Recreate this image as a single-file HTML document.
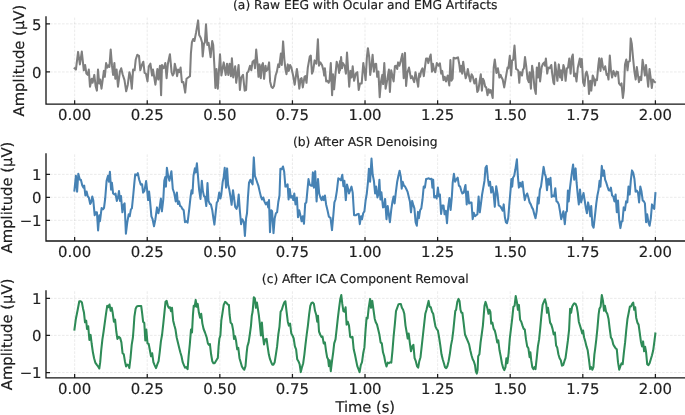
<!DOCTYPE html>
<html lang="en"><head><meta charset="utf-8"><title>EEG denoising</title>
<style>html,body{margin:0;padding:0;background:#fff}body{width:685px;height:415px;overflow:hidden}svg{display:block}text{text-rendering:geometricPrecision;stroke:#1e1e1e;stroke-width:0.18px;font-family:"DejaVu Sans","Liberation Sans",sans-serif;fill:#1e1e1e}</style></head><body>
<svg width="685" height="415" viewBox="0 0 685 415">
<rect width="685" height="415" fill="#fff"/>
<g>
<path d="M74.65 104.20V16.30M147.24 104.20V16.30M219.84 104.20V16.30M292.43 104.20V16.30M365.02 104.20V16.30M437.62 104.20V16.30M510.21 104.20V16.30M582.81 104.20V16.30M655.40 104.20V16.30M46.00 23.85H684.50M46.00 71.95H684.50" fill="none" stroke="#b0b0b0" stroke-opacity="0.32" stroke-width="0.8" stroke-dasharray="2.6 1.4"/>
<path d="M73.9 67.6 75.9 69.6 78.1 51.9 79.9 64.4 81.8 51.6 83.8 70.3 85.1 65.0 86.4 73.6 87.7 74.9 88.8 69.6 90.0 86.7 91.7 78.8 92.6 82.8 94.3 74.9 95.6 86.0 96.9 90.6 98.0 69.6 99.2 83.4 100.2 79.5 101.5 88.7 103.9 70.9 104.8 76.8 106.1 63.1 107.4 67.6 108.8 65.0 109.4 67.0 110.7 49.5 112.0 65.7 113.1 74.9 114.4 63.1 115.3 78.8 116.6 69.6 118.0 86.7 119.9 71.6 121.2 68.3 122.6 74.2 124.5 80.1 126.2 91.3 127.8 84.7 129.4 72.2 130.4 75.5 131.8 88.7 133.1 69.6 134.6 70.3 135.7 59.8 137.3 54.8 139.0 55.8 140.3 70.3 141.9 65.0 143.3 61.7 144.6 72.9 145.9 73.6 147.5 81.4 148.8 66.3 150.4 63.7 152.1 75.5 153.0 69.6 155.4 84.7 157.4 69.0 158.3 79.5 160.0 65.7 161.1 95.2 162.0 65.0 163.3 68.3 164.2 67.6 165.3 63.1 166.6 78.2 167.9 63.7 169.9 54.2 171.6 72.2 172.7 75.5 173.8 73.6 174.8 63.7 176.0 69.0 177.1 76.2 178.1 69.6 179.4 72.2 180.6 67.6 181.9 82.1 183.4 82.1 185.2 92.6 186.5 78.8 188.2 77.5 190.0 76.2 190.9 53.5 191.9 42.3 193.2 39.0 194.4 41.0 196.1 32.4 198.1 20.4 199.2 35.1 200.7 37.7 202.0 42.3 202.7 56.4 204.0 43.6 204.9 42.3 206.0 24.3 207.3 44.9 208.6 42.9 210.6 57.1 212.2 41.0 213.2 44.9 214.5 68.0 215.4 88.0 216.5 69.0 217.8 88.7 220.0 54.2 221.4 75.5 223.7 62.4 225.7 74.9 227.0 63.7 228.3 74.9 229.6 63.7 230.9 76.2 231.9 58.2 233.2 77.5 235.2 66.3 236.2 82.8 238.6 65.0 239.9 90.0 241.2 77.5 243.0 74.9 244.7 90.6 246.1 90.0 247.0 72.9 248.3 71.6 250.0 65.7 251.3 70.3 252.6 61.7 254.2 60.4 255.0 68.3 256.2 49.5 257.5 63.7 258.5 76.8 259.5 64.4 260.8 78.2 261.8 65.7 262.9 63.1 264.1 78.8 265.5 65.7 266.4 70.9 267.7 69.6 269.1 62.4 270.1 81.4 271.4 86.7 272.7 88.0 274.0 86.0 275.6 75.5 276.9 71.6 278.2 64.4 279.2 67.0 280.9 53.5 281.8 65.0 283.1 41.4 284.4 59.8 285.5 69.6 286.5 74.2 287.8 64.4 288.8 70.9 290.1 65.0 291.4 67.6 293.1 75.5 294.7 84.7 296.9 69.0 298.0 76.8 299.3 88.7 300.6 78.8 301.6 78.2 302.8 87.4 304.5 76.8 305.4 76.2 306.5 82.8 307.8 67.6 309.8 56.5 310.8 55.6 312.0 73.6 313.1 70.9 314.6 60.4 316.4 63.7 317.9 39.3 319.0 65.7 320.3 62.4 322.0 65.0 323.6 70.9 324.2 75.5 324.9 68.3 326.2 81.4 327.5 80.8 328.6 82.8 329.5 80.8 330.8 63.1 332.1 95.2 333.0 74.2 334.1 89.3 335.4 74.9 336.7 61.7 338.3 67.0 339.1 72.9 340.0 61.1 340.0 70.3 341.1 57.1 342.0 68.3 342.9 63.1 344.6 65.7 345.9 73.6 347.0 52.5 348.1 69.0 349.2 86.7 350.5 70.9 351.6 77.5 352.7 66.3 354.1 80.8 355.8 73.6 357.3 72.2 358.7 90.0 360.0 83.4 361.7 83.4 363.3 63.1 364.3 69.6 365.6 80.1 366.9 57.1 367.9 48.2 369.2 57.1 370.2 74.9 371.5 65.7 372.6 54.8 373.9 71.6 374.8 64.4 376.1 63.7 377.2 76.8 378.4 71.6 379.7 97.2 381.0 81.4 382.3 74.9 383.1 84.1 384.3 63.1 385.6 88.7 387.3 79.5 388.9 69.6 389.9 92.0 391.2 70.3 393.6 81.4 394.9 66.3 396.2 65.7 397.2 69.0 398.1 62.4 399.4 65.7 400.7 61.1 402.4 53.9 403.7 78.2 405.0 52.9 406.1 86.0 407.3 72.9 409.0 67.6 410.9 78.2 412.0 76.2 414.2 82.1 415.5 72.2 416.6 78.2 418.2 86.7 419.2 73.6 420.1 76.8 421.2 70.9 422.5 68.3 423.8 76.2 426.1 58.5 427.4 58.5 428.3 63.1 430.0 56.5 430.7 54.5 432.0 71.6 432.9 63.7 434.2 70.3 435.3 72.2 436.8 63.1 438.5 65.7 439.9 63.4 441.2 73.6 442.2 70.9 443.5 80.1 444.7 76.8 446.0 81.4 447.7 75.5 449.3 85.4 450.4 60.0 451.4 80.8 452.6 78.8 453.6 57.8 455.6 58.5 456.9 57.8 458.0 57.4 459.2 63.7 460.2 71.6 461.1 65.7 462.2 73.6 463.2 61.7 464.4 70.9 465.7 78.2 466.8 74.9 467.8 69.0 469.2 76.8 470.3 81.4 471.6 74.2 472.7 76.2 474.4 83.4 476.0 78.8 477.3 92.0 478.4 90.0 479.7 80.8 480.8 74.2 481.9 90.6 482.9 78.8 483.9 80.8 485.2 86.7 486.2 87.4 487.5 95.2 488.7 89.3 489.8 92.6 490.7 90.0 491.8 93.9 492.7 97.9 493.7 67.6 494.8 59.5 496.4 72.9 497.9 68.3 499.4 77.5 500.6 74.9 501.6 77.5 502.7 79.5 504.2 87.4 505.5 79.5 507.5 67.6 508.4 68.3 509.8 55.8 511.1 75.5 512.1 60.4 513.2 59.8 514.5 45.6 516.1 69.0 517.4 69.6 518.3 70.9 519.3 82.8 520.0 72.2 520.7 72.2 522.0 75.5 522.9 69.6 523.9 68.3 525.0 57.1 526.3 67.0 527.5 78.8 528.8 82.1 529.6 72.2 530.9 88.7 532.1 65.7 533.1 72.2 534.5 88.0 535.8 93.9 536.8 67.6 538.0 77.5 539.1 63.1 540.1 81.4 541.7 67.0 543.0 63.7 544.3 62.4 545.0 65.7 545.9 58.5 547.2 73.6 548.2 67.6 549.6 68.3 551.3 65.0 552.2 73.6 553.5 82.8 554.2 84.1 555.1 62.4 556.5 73.6 557.4 80.8 558.8 64.4 560.1 77.5 561.0 70.3 562.0 80.1 563.4 65.0 564.4 68.3 565.6 80.8 566.9 68.3 568.0 67.6 569.3 58.5 570.6 73.6 571.9 57.1 572.8 54.5 574.1 76.2 575.4 73.6 576.5 81.4 577.8 67.6 579.8 58.5 580.7 67.0 581.8 59.1 583.1 82.1 584.4 86.0 585.7 73.6 586.6 71.6 587.9 76.8 589.0 93.9 590.3 80.8 591.3 90.6 592.7 75.5 593.8 78.2 594.9 85.4 595.7 79.5 597.0 80.1 598.3 65.7 599.2 58.2 600.5 70.9 601.6 58.5 602.9 67.0 603.9 69.6 605.2 66.3 606.6 74.9 607.5 74.2 608.5 79.5 609.8 55.6 611.0 70.9 612.1 77.5 613.4 70.9 615.4 76.2 616.7 71.6 618.0 72.2 619.0 83.4 620.6 85.4 621.5 83.4 622.9 97.9 623.9 90.0 625.0 64.4 626.3 59.5 627.5 70.3 628.5 61.7 629.8 61.1 630.7 38.4 631.8 44.0 633.1 58.5 634.4 71.6 635.7 79.5 636.8 67.0 638.1 76.2 639.0 82.1 640.3 76.8 641.2 80.1 642.6 59.8 643.9 68.3 644.9 75.5 646.0 65.0 647.3 78.2 648.2 86.7 649.5 69.0 650.8 78.8 651.8 88.0 652.8 79.5 654.1 81.4 655.7 82.8" fill="none" stroke="#7f7f7f" stroke-width="2.05" stroke-linejoin="round" stroke-linecap="butt"/>
<path d="M74.65 104.20v-4.0M147.24 104.20v-4.0M219.84 104.20v-4.0M292.43 104.20v-4.0M365.02 104.20v-4.0M437.62 104.20v-4.0M510.21 104.20v-4.0M582.81 104.20v-4.0M655.40 104.20v-4.0M46.00 23.85h4.0M46.00 71.95h4.0" fill="none" stroke="#1e1e1e" stroke-width="1.25"/>
<path d="M46.00 16.30V104.20M45.35 104.20H685.50" fill="none" stroke="#151515" stroke-width="1.3"/>
<text x="74.65" y="119.60" font-size="14.9" text-anchor="middle">0.00</text>
<text x="147.24" y="119.60" font-size="14.9" text-anchor="middle">0.25</text>
<text x="219.84" y="119.60" font-size="14.9" text-anchor="middle">0.50</text>
<text x="292.43" y="119.60" font-size="14.9" text-anchor="middle">0.75</text>
<text x="365.02" y="119.60" font-size="14.9" text-anchor="middle">1.00</text>
<text x="437.62" y="119.60" font-size="14.9" text-anchor="middle">1.25</text>
<text x="510.21" y="119.60" font-size="14.9" text-anchor="middle">1.50</text>
<text x="582.81" y="119.60" font-size="14.9" text-anchor="middle">1.75</text>
<text x="655.40" y="119.60" font-size="14.9" text-anchor="middle">2.00</text>
<text x="41.60" y="29.55" font-size="14.9" text-anchor="end">5</text>
<text x="41.60" y="77.65" font-size="14.9" text-anchor="end">0</text>
<text transform="translate(24.30 60.60) rotate(-90)" font-size="14.8" text-anchor="middle">Amplitude (µV)</text>
<text x="365.25" y="9.40" font-size="12.3" text-anchor="middle">(a) Raw EEG with Ocular and EMG Artifacts</text>
</g>
<g>
<path d="M74.65 241.00V153.30M147.24 241.00V153.30M219.84 241.00V153.30M292.43 241.00V153.30M365.02 241.00V153.30M437.62 241.00V153.30M510.21 241.00V153.30M582.81 241.00V153.30M655.40 241.00V153.30M46.00 174.40H684.50M46.00 197.30H684.50M46.00 220.30H684.50" fill="none" stroke="#b0b0b0" stroke-opacity="0.32" stroke-width="0.8" stroke-dasharray="2.6 1.4"/>
<path d="M74.3 191.6 75.9 175.8 77.1 191.6 78.3 173.8 79.9 179.7 80.9 179.7 82.3 185.6 83.4 187.6 84.2 185.6 85.4 195.5 86.6 191.6 87.8 196.5 88.8 197.5 90.2 204.0 91.1 202.4 92.3 196.5 93.3 200.5 94.7 215.3 95.7 212.3 96.9 212.3 98.1 230.5 99.3 215.3 100.0 221.2 101.6 208.0 103.0 209.4 104.0 208.0 105.2 198.5 106.6 180.7 108.0 175.8 108.9 181.7 109.9 171.8 111.1 189.6 111.9 182.7 113.1 193.5 114.5 194.5 115.5 193.5 116.8 200.9 118.0 197.5 119.0 191.0 120.0 200.9 121.0 196.1 122.4 212.3 123.4 205.4 124.6 203.4 125.9 233.7 127.3 222.2 128.7 214.3 129.7 216.3 130.9 209.4 131.9 208.4 133.3 194.5 134.2 184.6 135.2 174.4 136.6 175.2 137.8 173.2 139.2 179.7 140.8 184.6 142.1 184.3 143.1 192.6 144.5 190.6 146.1 181.1 147.1 189.6 148.1 200.1 149.1 191.6 150.1 201.4 151.4 216.3 152.6 219.2 154.0 226.2 155.4 219.2 157.0 207.4 158.4 213.3 159.5 208.4 160.9 198.5 161.9 211.3 163.3 199.5 164.3 180.7 165.3 177.1 165.9 186.6 166.9 167.8 168.2 176.3 169.4 180.7 171.4 171.2 172.8 189.0 174.2 193.0 175.7 201.4 176.9 192.6 177.9 204.0 179.1 201.4 180.1 206.0 181.1 206.4 182.3 208.8 183.7 210.3 185.0 222.2 186.6 221.2 187.6 222.6 189.2 209.4 190.6 196.5 191.6 190.2 192.5 193.5 193.5 175.8 194.9 168.4 195.7 172.4 196.9 163.3 198.1 177.7 199.1 189.6 200.5 198.9 201.8 180.7 202.8 190.6 204.0 196.1 205.0 196.9 206.3 206.0 207.5 183.1 208.5 200.9 209.9 204.0 210.9 204.4 212.3 210.3 213.4 218.3 214.4 224.6 215.8 211.3 216.8 202.4 217.8 201.4 219.2 192.6 220.4 198.5 221.3 194.5 222.7 181.7 223.7 177.1 224.7 167.8 226.1 187.6 227.1 168.4 228.1 184.6 229.3 189.6 230.6 197.5 231.6 204.8 233.0 190.2 234.0 197.5 235.2 206.8 236.6 208.8 237.6 205.4 238.7 194.5 239.9 211.3 241.1 224.2 242.3 219.2 243.9 222.2 244.9 236.0 246.1 218.3 247.0 213.3 248.0 196.5 249.0 182.7 250.4 179.7 251.4 182.3 252.6 184.3 253.8 157.4 254.9 175.8 256.3 179.7 257.3 182.7 258.5 186.2 259.7 191.6 260.9 196.5 262.1 199.5 263.3 197.5 264.4 201.4 265.8 204.4 267.2 202.4 268.2 207.4 269.0 200.1 270.0 232.1 271.2 210.3 272.1 211.3 273.5 233.1 274.7 218.3 275.9 213.3 277.1 212.3 278.3 202.0 279.5 195.5 280.4 168.8 281.8 169.2 283.0 166.5 284.2 171.8 285.4 186.6 286.6 186.2 287.6 184.3 288.6 199.5 289.7 189.0 290.9 197.5 292.1 196.1 293.3 200.1 294.3 193.5 295.5 204.4 296.9 197.5 298.0 217.3 299.2 210.3 300.4 215.3 301.6 221.2 302.8 216.3 304.0 223.8 305.2 203.4 306.3 202.4 307.3 191.6 308.5 179.1 309.7 184.6 311.1 185.6 312.1 185.6 312.9 172.4 313.9 187.6 315.2 171.2 316.6 201.4 318.0 179.1 319.2 193.5 320.4 197.5 321.6 200.1 322.7 196.5 323.7 200.1 324.9 195.5 326.1 204.4 327.5 210.3 328.9 216.7 330.5 217.9 332.0 230.1 333.4 214.3 334.4 202.4 335.5 199.5 336.9 190.6 338.3 178.3 339.5 179.1 340.9 180.3 342.3 174.8 343.4 186.2 344.4 180.7 345.8 200.1 347.0 184.6 347.8 187.6 349.0 193.5 350.4 189.6 351.5 186.6 352.7 192.6 354.1 215.3 355.7 215.3 357.1 214.3 358.7 213.9 359.8 224.2 361.0 216.3 362.0 219.2 363.2 213.3 364.4 211.3 365.6 200.5 366.8 193.5 368.0 181.7 368.9 168.8 370.1 181.7 371.5 158.6 372.7 174.8 373.9 180.7 375.1 193.5 376.1 186.6 377.4 197.5 378.4 194.5 379.4 179.7 380.4 199.5 381.4 192.2 383.0 207.4 384.0 206.8 385.1 198.9 386.5 219.2 387.7 206.0 388.7 213.3 389.9 222.2 391.3 209.4 392.5 201.4 393.6 196.5 394.6 203.4 395.8 192.6 397.2 181.7 398.4 175.8 399.6 170.8 400.8 176.7 401.7 188.6 402.7 181.7 403.9 185.6 405.1 186.6 406.3 189.0 407.5 191.6 408.7 196.5 409.9 201.4 411.0 212.3 412.2 200.9 413.4 205.4 414.4 208.4 415.6 222.2 416.8 225.8 418.0 211.9 418.9 218.3 420.1 210.3 421.3 208.4 422.5 199.5 423.7 186.6 424.9 187.6 426.1 179.1 427.4 178.7 428.8 178.3 430.2 179.1 431.6 178.7 432.4 187.6 433.2 179.7 434.2 197.5 435.7 196.1 436.7 198.5 437.9 187.6 438.9 196.5 439.9 194.5 441.1 213.9 442.3 205.4 443.5 205.4 444.6 214.3 445.8 210.7 447.0 223.2 448.2 206.8 449.4 198.1 450.6 209.9 451.8 197.5 452.7 182.7 453.9 173.8 455.1 181.7 456.5 179.1 457.7 177.7 458.9 185.6 460.1 186.6 461.2 190.6 462.4 193.5 463.8 192.6 465.0 186.6 465.5 185.0 466.7 204.4 467.9 191.6 469.1 203.4 470.3 202.4 471.5 202.4 472.7 219.2 473.8 212.7 475.0 216.3 476.2 215.3 477.4 214.3 478.6 196.5 479.8 212.3 481.0 203.4 482.1 194.5 483.3 187.6 484.5 180.7 485.5 167.8 486.7 165.9 487.9 178.7 488.9 185.6 490.0 181.7 491.2 192.6 492.4 187.0 493.6 193.5 494.8 206.8 496.2 186.2 497.6 194.5 498.7 205.4 500.3 206.4 501.5 208.4 502.7 210.7 503.7 204.4 504.9 217.3 505.9 222.2 507.0 223.2 508.2 218.3 509.4 203.4 510.6 189.6 511.4 179.1 512.2 186.6 513.0 177.7 514.2 175.8 515.3 169.8 516.9 159.3 517.9 176.7 518.9 187.6 520.1 182.7 521.3 186.6 522.5 181.7 523.6 191.6 524.8 200.1 526.0 195.5 527.2 193.5 528.4 197.5 529.6 202.4 530.8 204.4 531.9 207.4 533.1 209.4 534.3 214.3 535.5 218.3 536.7 211.3 537.9 197.5 538.7 203.4 539.9 189.6 541.0 186.6 542.2 177.7 543.6 166.9 544.8 173.8 545.8 176.7 547.0 190.2 548.2 178.7 549.3 184.6 550.5 177.7 551.7 196.9 552.9 195.5 554.1 196.5 555.3 188.2 556.5 201.4 557.6 202.0 558.8 204.4 560.0 211.3 561.2 219.2 562.4 215.3 563.4 211.3 564.8 224.2 565.9 212.3 566.9 211.3 567.9 190.6 568.7 201.4 569.9 188.6 571.1 178.7 572.1 170.8 573.1 164.5 574.2 179.7 575.6 168.4 576.6 182.7 577.8 195.5 578.8 204.4 580.0 189.6 581.2 202.4 582.3 197.5 583.5 193.0 584.7 200.5 585.9 208.4 586.9 213.3 588.1 202.4 589.3 208.4 590.3 216.3 591.2 206.0 592.4 225.2 593.6 227.7 595.1 214.3 596.3 203.4 597.4 195.5 598.6 189.6 599.6 180.7 600.4 186.6 601.8 165.9 603.0 175.8 604.0 170.4 605.1 179.7 606.3 182.7 607.5 186.6 608.7 190.2 609.9 190.6 610.9 187.6 612.1 195.5 613.3 196.5 614.4 201.4 615.6 194.5 616.8 212.3 618.0 200.5 619.2 220.2 620.4 228.1 621.6 221.2 622.5 221.2 623.7 207.4 624.9 210.3 626.1 201.4 627.3 202.4 628.5 186.6 629.7 194.5 630.8 180.7 632.0 170.4 633.2 172.8 634.4 178.7 635.6 191.6 636.8 190.6 638.0 192.6 639.1 202.4 640.3 186.6 641.5 191.6 642.7 200.5 643.9 201.4 644.9 203.4 646.1 222.2 647.2 214.3 648.4 222.2 649.6 225.8 650.8 218.3 652.0 204.4 653.2 207.4 654.2 208.8 655.5 192.2" fill="none" stroke="#4682b4" stroke-width="2.05" stroke-linejoin="round" stroke-linecap="butt"/>
<path d="M74.65 241.00v-4.0M147.24 241.00v-4.0M219.84 241.00v-4.0M292.43 241.00v-4.0M365.02 241.00v-4.0M437.62 241.00v-4.0M510.21 241.00v-4.0M582.81 241.00v-4.0M655.40 241.00v-4.0M46.00 174.40h4.0M46.00 197.30h4.0M46.00 220.30h4.0" fill="none" stroke="#1e1e1e" stroke-width="1.25"/>
<path d="M46.00 153.30V241.00M45.35 241.00H685.50" fill="none" stroke="#151515" stroke-width="1.3"/>
<text x="74.65" y="257.30" font-size="14.9" text-anchor="middle">0.00</text>
<text x="147.24" y="257.30" font-size="14.9" text-anchor="middle">0.25</text>
<text x="219.84" y="257.30" font-size="14.9" text-anchor="middle">0.50</text>
<text x="292.43" y="257.30" font-size="14.9" text-anchor="middle">0.75</text>
<text x="365.02" y="257.30" font-size="14.9" text-anchor="middle">1.00</text>
<text x="437.62" y="257.30" font-size="14.9" text-anchor="middle">1.25</text>
<text x="510.21" y="257.30" font-size="14.9" text-anchor="middle">1.50</text>
<text x="582.81" y="257.30" font-size="14.9" text-anchor="middle">1.75</text>
<text x="655.40" y="257.30" font-size="14.9" text-anchor="middle">2.00</text>
<text x="41.60" y="179.70" font-size="14.9" text-anchor="end">1</text>
<text x="41.60" y="202.60" font-size="14.9" text-anchor="end">0</text>
<text x="41.60" y="225.60" font-size="14.9" text-anchor="end">−1</text>
<text transform="translate(12.05 197.50) rotate(-90)" font-size="14.8" text-anchor="middle">Amplitude (µV)</text>
<text x="365.25" y="146.40" font-size="12.3" text-anchor="middle">(b) After ASR Denoising</text>
</g>
<g>
<path d="M74.65 377.90V290.20M147.24 377.90V290.20M219.84 377.90V290.20M292.43 377.90V290.20M365.02 377.90V290.20M437.62 377.90V290.20M510.21 377.90V290.20M582.81 377.90V290.20M655.40 377.90V290.20M46.00 298.40H684.50M46.00 335.40H684.50M46.00 372.50H684.50" fill="none" stroke="#b0b0b0" stroke-opacity="0.32" stroke-width="0.8" stroke-dasharray="2.6 1.4"/>
<path d="M74.3 330.6 75.9 318.7 77.5 310.8 79.3 301.3 80.9 301.3 81.9 302.5 83.0 308.4 84.0 312.8 85.0 322.3 86.2 320.7 87.0 329.0 88.2 326.2 89.4 340.0 90.6 334.9 91.7 344.0 92.9 352.3 94.1 358.2 95.3 362.6 96.7 364.6 98.1 366.5 99.3 368.5 100.2 362.2 101.2 350.3 102.4 339.4 103.6 331.5 104.8 322.6 106.0 313.8 107.2 305.8 108.3 307.2 109.5 304.5 110.7 310.8 111.7 307.8 112.7 312.8 113.9 321.7 115.1 319.7 116.3 331.5 117.4 338.9 118.8 336.9 120.2 338.1 121.4 342.4 122.6 353.3 123.8 354.3 124.9 361.2 126.1 366.5 127.3 364.6 128.5 365.1 129.3 368.1 130.5 358.2 131.7 344.8 132.9 337.5 133.6 328.6 134.4 316.7 135.6 308.8 136.8 306.4 138.2 306.0 139.6 306.0 141.2 306.0 142.1 312.8 143.1 321.7 144.3 323.0 145.3 340.4 146.3 329.6 147.5 343.4 148.7 344.0 149.9 350.3 151.0 356.3 152.2 353.3 153.4 362.2 154.6 365.1 156.0 368.1 157.4 364.2 158.6 361.2 159.7 352.3 160.9 341.4 162.1 334.5 163.3 323.6 164.5 311.8 165.5 301.9 166.7 300.9 167.8 305.8 168.8 307.8 170.0 307.2 171.0 311.2 172.0 307.8 173.2 320.7 174.4 325.6 175.5 329.6 176.7 337.5 177.9 342.4 179.1 347.4 180.3 352.3 181.5 356.3 182.7 362.2 183.9 365.1 185.0 367.7 186.2 367.1 187.6 369.1 188.6 356.3 189.8 344.4 191.0 329.6 192.0 332.5 192.9 315.7 193.7 305.8 194.7 306.4 195.7 299.9 196.7 306.8 197.7 303.9 198.9 312.8 200.1 317.7 201.2 313.8 202.4 323.6 203.6 329.0 205.0 332.5 206.7 337.5 207.9 343.4 208.9 344.8 209.9 344.0 211.1 354.3 212.3 361.2 213.4 363.2 214.6 363.2 215.8 361.2 217.0 359.2 217.8 358.2 218.6 346.4 219.4 338.5 220.4 335.5 221.3 320.7 222.5 312.8 223.7 304.9 225.1 301.9 226.5 302.9 227.7 304.5 228.9 304.9 229.6 314.7 230.6 322.6 232.0 324.2 233.2 330.6 234.0 338.9 235.0 336.1 236.0 340.4 237.2 349.3 238.3 347.9 239.5 358.2 240.7 362.2 241.9 366.5 243.1 368.5 244.3 369.7 245.5 366.1 246.6 353.3 247.4 346.4 248.6 342.4 249.8 334.5 251.0 325.6 251.8 315.7 252.6 311.8 253.8 297.3 254.9 298.5 255.9 307.8 256.9 302.5 257.9 308.8 258.9 315.7 259.9 324.6 260.9 335.5 261.9 322.6 262.9 335.5 264.0 344.4 265.2 339.4 266.6 338.9 267.6 346.4 268.8 354.3 270.0 359.2 271.2 362.2 272.3 364.6 273.5 364.6 274.7 362.2 275.9 354.3 277.1 346.4 278.3 334.5 279.5 326.6 280.6 311.8 281.8 309.8 283.0 305.8 284.2 302.5 285.4 301.3 286.6 311.8 287.8 321.7 288.9 325.6 290.1 323.6 291.3 333.5 292.5 335.5 293.7 338.5 294.9 346.4 296.1 349.3 297.2 359.2 298.4 361.2 299.6 364.2 300.8 372.1 302.0 367.1 303.2 363.2 304.4 354.3 305.5 344.4 306.7 334.5 307.9 325.6 309.1 314.7 310.3 305.8 311.5 302.9 312.7 302.5 313.9 303.9 315.0 310.8 316.2 314.7 317.2 321.7 318.0 315.7 319.0 331.5 320.2 334.5 321.4 336.9 322.5 336.5 323.7 343.4 324.9 342.4 326.1 351.3 327.1 357.2 328.1 359.2 328.9 366.1 329.7 360.2 330.8 371.1 332.0 361.2 333.2 352.3 334.2 343.4 335.5 339.4 336.7 328.6 337.9 317.7 339.1 307.8 340.3 298.9 341.3 295.0 342.3 303.9 343.4 311.2 344.6 311.8 345.6 307.2 346.6 324.6 347.8 321.7 349.0 325.6 350.2 336.9 351.3 337.5 352.5 336.9 353.7 349.3 354.9 354.3 356.1 360.2 357.3 366.1 358.5 369.1 359.6 372.1 360.8 365.1 362.0 362.2 363.2 353.3 364.4 347.4 365.6 329.6 366.6 317.7 367.6 318.3 368.7 307.8 370.1 298.9 371.1 307.8 372.3 300.9 373.5 309.8 374.7 318.7 375.9 322.6 377.0 324.6 378.2 329.6 379.4 334.5 380.6 342.4 381.8 343.4 383.0 352.3 384.2 356.3 385.3 362.2 386.5 366.5 387.7 362.6 388.9 363.2 390.1 362.2 391.3 362.6 392.5 350.3 393.6 336.5 394.8 324.6 396.0 311.2 397.2 307.8 398.4 304.5 399.6 303.9 400.8 303.9 401.9 307.8 403.1 309.8 404.3 313.8 405.5 325.6 406.7 332.5 407.7 338.5 408.7 333.5 409.9 343.4 411.0 351.3 412.2 346.4 413.4 344.8 414.6 358.2 415.8 361.2 417.0 366.1 418.2 367.7 419.3 361.2 420.5 357.2 421.7 346.4 422.9 335.5 424.1 324.6 425.3 313.8 426.5 309.8 427.6 304.9 428.6 300.9 429.6 306.8 430.8 307.2 432.0 311.8 433.2 313.8 434.4 320.7 435.5 326.6 436.7 329.0 437.9 330.6 439.1 337.5 440.3 345.4 441.5 354.3 442.7 359.2 443.9 363.2 445.0 367.1 446.2 368.1 447.4 366.1 448.6 361.2 449.8 354.3 451.0 345.4 452.2 339.4 453.3 330.6 454.5 318.7 455.3 310.8 456.1 309.8 457.3 301.9 458.5 298.9 459.5 300.9 460.5 309.8 461.4 312.8 462.4 312.8 463.6 322.6 465.0 334.5 466.7 338.5 467.9 341.4 469.1 344.4 470.3 350.3 471.5 355.3 472.7 359.2 473.8 361.2 475.0 365.1 475.8 371.1 476.8 373.6 477.6 370.1 478.2 356.3 479.4 354.3 480.6 342.4 481.7 334.5 482.9 325.6 483.7 315.7 484.5 305.8 485.5 301.9 486.5 304.9 487.5 308.8 488.5 313.8 489.5 309.8 490.4 311.8 491.2 323.6 492.4 322.6 493.6 328.6 494.8 330.6 496.0 335.5 497.2 342.4 498.3 340.4 499.5 350.3 500.7 356.3 501.9 363.2 503.1 367.7 504.3 370.1 505.5 367.1 506.4 358.2 507.4 363.2 508.6 353.3 509.8 338.5 511.0 328.6 512.2 318.7 513.4 306.8 514.6 305.8 515.7 296.0 516.9 301.9 517.9 309.8 518.9 304.9 520.1 319.7 521.3 321.7 522.5 325.6 523.6 328.6 524.8 329.6 526.0 339.4 527.2 346.4 528.4 348.3 529.6 357.2 530.4 352.3 531.2 360.2 532.3 367.1 533.5 369.1 534.5 367.1 535.5 369.1 536.7 358.2 537.9 346.4 539.1 339.4 540.2 328.6 541.4 315.7 542.6 304.9 543.8 301.9 545.0 299.3 546.2 303.9 547.0 312.8 548.0 307.8 548.9 313.8 550.1 322.6 551.3 324.6 552.5 328.6 553.7 334.5 554.9 332.5 556.1 345.4 557.2 347.4 558.4 354.3 559.6 358.2 560.8 360.2 562.0 365.7 563.2 365.1 564.4 361.2 565.5 358.2 566.7 349.3 567.9 340.4 569.1 329.6 570.1 308.8 571.1 312.8 572.1 306.8 573.3 304.5 574.4 303.3 575.6 303.9 576.8 306.8 577.8 312.8 578.8 321.7 580.0 325.6 581.2 329.6 582.2 333.5 583.1 330.6 584.1 337.5 585.3 341.4 586.5 346.4 587.7 350.3 588.9 359.2 590.1 369.1 591.2 367.1 592.4 369.7 593.4 367.1 594.4 354.3 595.1 349.3 596.3 339.4 597.4 328.6 598.6 314.7 599.4 308.8 600.6 306.8 601.8 295.0 603.0 300.9 604.0 310.8 604.9 305.8 606.1 311.8 607.3 313.8 608.5 318.7 609.7 328.6 610.9 337.5 612.1 339.4 613.3 344.4 614.4 346.4 615.6 348.3 616.8 349.3 618.0 362.2 619.2 369.7 620.4 366.1 621.6 363.2 622.7 364.2 623.9 352.3 625.1 342.4 626.3 329.6 627.5 318.7 628.7 312.8 629.9 306.4 631.0 306.4 632.2 303.9 633.2 302.5 634.2 309.8 635.2 307.2 636.2 317.7 637.4 322.6 638.6 324.6 639.7 332.5 640.9 341.4 642.1 346.4 643.1 341.4 644.1 351.3 645.1 346.8 646.1 352.3 647.2 364.2 648.4 365.1 649.6 363.2 650.8 359.2 652.0 355.3 653.2 350.3 654.4 341.4 655.5 332.5" fill="none" stroke="#2e8b57" stroke-width="2.05" stroke-linejoin="round" stroke-linecap="butt"/>
<path d="M74.65 377.90v-4.0M147.24 377.90v-4.0M219.84 377.90v-4.0M292.43 377.90v-4.0M365.02 377.90v-4.0M437.62 377.90v-4.0M510.21 377.90v-4.0M582.81 377.90v-4.0M655.40 377.90v-4.0M46.00 298.40h4.0M46.00 335.40h4.0M46.00 372.50h4.0" fill="none" stroke="#1e1e1e" stroke-width="1.25"/>
<path d="M46.00 290.20V377.90M45.35 377.90H685.50" fill="none" stroke="#151515" stroke-width="1.3"/>
<text x="74.65" y="393.80" font-size="14.9" text-anchor="middle">0.00</text>
<text x="147.24" y="393.80" font-size="14.9" text-anchor="middle">0.25</text>
<text x="219.84" y="393.80" font-size="14.9" text-anchor="middle">0.50</text>
<text x="292.43" y="393.80" font-size="14.9" text-anchor="middle">0.75</text>
<text x="365.02" y="393.80" font-size="14.9" text-anchor="middle">1.00</text>
<text x="437.62" y="393.80" font-size="14.9" text-anchor="middle">1.25</text>
<text x="510.21" y="393.80" font-size="14.9" text-anchor="middle">1.50</text>
<text x="582.81" y="393.80" font-size="14.9" text-anchor="middle">1.75</text>
<text x="655.40" y="393.80" font-size="14.9" text-anchor="middle">2.00</text>
<text x="41.60" y="303.70" font-size="14.9" text-anchor="end">1</text>
<text x="41.60" y="340.70" font-size="14.9" text-anchor="end">0</text>
<text x="41.60" y="377.80" font-size="14.9" text-anchor="end">−1</text>
<text transform="translate(12.05 334.40) rotate(-90)" font-size="14.8" text-anchor="middle">Amplitude (µV)</text>
<text x="365.25" y="283.30" font-size="12.3" text-anchor="middle">(c) After ICA Component Removal</text>
</g>
<text x="365.25" y="412.40" font-size="14.7" text-anchor="middle">Time (s)</text>
</svg></body></html>
